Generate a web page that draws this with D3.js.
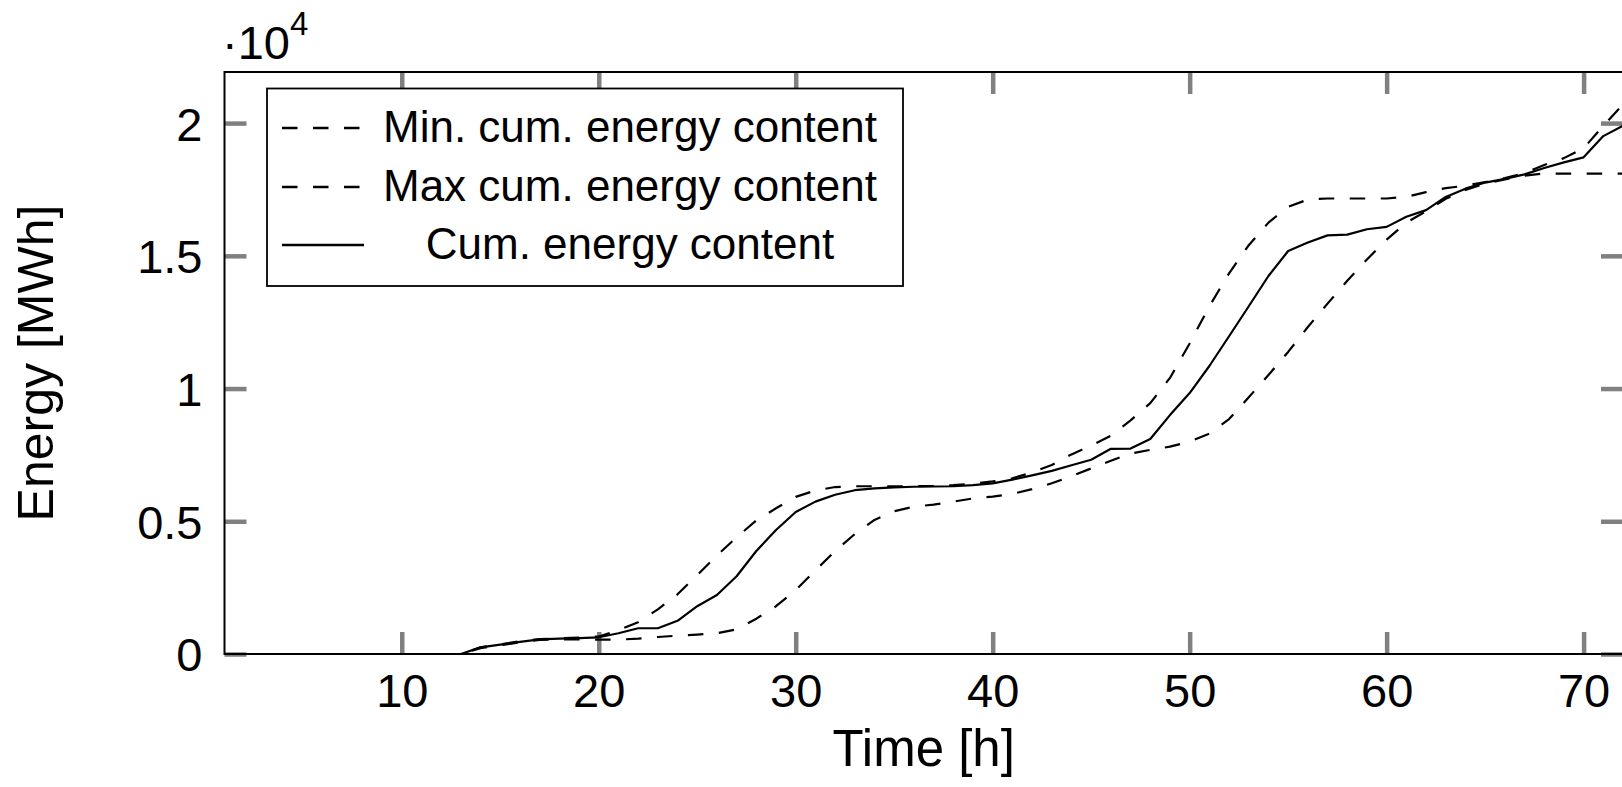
<!DOCTYPE html>
<html>
<head>
<meta charset="utf-8">
<script src="https://cdn.jsdelivr.net/npm/d3@7"></script>
<style>
  html, body { margin: 0; padding: 0; background: #fff; overflow: hidden; }
  svg { display: block; }
  text { font-family: "Liberation Sans", Arial, sans-serif; fill: #000; }
</style>
</head>
<body>
<svg id="chart" width="1622" height="787"></svg>
<script>
// Hours of the simulated horizon
const hours = [1, 2, 3, 4, 5, 6, 7, 8, 9, 10, 11, 12, 13, 14, 15, 16, 17, 18,
  19, 20, 21, 22, 23, 24, 25, 26, 27, 28, 29, 30, 31, 32, 33, 34, 35, 36,
  37, 38, 39, 40, 41, 42, 43, 44, 45, 46, 47, 48, 49, 50, 51, 52, 53, 54,
  55, 56, 57, 58, 59, 60, 61, 62, 63, 64, 65, 66, 67, 68, 69, 70, 71, 72];

// Cumulative energy content bounds and actual trajectory, in MWh
const minCumEnergy = [0, 0, 0, 0, 0, 0, 0, 0, 0, 0, 0, 0, 0, 220, 330, 440, 530, 550,
  550, 540, 540, 580, 640, 690, 730, 780, 930, 1330, 1800, 2410, 3150, 3880, 4520, 5050, 5380, 5550,
  5630, 5740, 5860, 5930, 6030, 6210, 6430, 6700, 6990, 7280, 7550, 7690, 7810, 8000, 8300, 8850, 9670, 10510,
  11380, 12320, 13200, 14060, 14860, 15610, 16250, 16680, 17150, 17480, 17720, 17880, 18020, 18100, 18100, 18100, 18100, 18100];

const maxCumEnergy = [0, 0, 0, 0, 0, 0, 0, 0, 0, 0, 0, 0, 0, 250, 360, 480, 560, 590,
  620, 660, 900, 1200, 1680, 2250, 2970, 3710, 4400, 5030, 5490, 5920, 6160, 6290, 6320, 6320, 6320, 6320,
  6330, 6360, 6420, 6500, 6620, 6840, 7120, 7520, 7850, 8220, 8800, 9450, 10400, 11700, 13100, 14340, 15400, 16250,
  16850, 17120, 17160, 17160, 17160, 17160, 17220, 17400, 17550, 17640, 17780, 17930, 18120, 18420, 18680, 19050, 19900, 20700];

const cumEnergy = [0, 0, 0, 0, 0, 0, 0, 0, 0, 0, 0, 0, 0, 250, 350, 460, 550, 580,
  600, 630, 780, 970, 970, 1250, 1800, 2220, 2930, 3880, 4670, 5350, 5740, 6000, 6170, 6240, 6280, 6300,
  6310, 6320, 6360, 6430, 6570, 6730, 6900, 7110, 7320, 7730, 7740, 8100, 9000, 9830, 10850, 11970, 13100, 14240,
  15180, 15500, 15770, 15800, 16000, 16090, 16470, 16720, 17220, 17530, 17760, 17900, 18070, 18310, 18520, 18710, 19510, 19900];

const xTickValues = [10, 20, 30, 40, 50, 60, 70];
const yTickValues = [0, 5000, 10000, 15000, 20000];
const yTickLabels = ["0", "0.5", "1", "1.5", "2"];
const legendLabels = ["Min. cum. energy content", "Max cum. energy content", "Cum. energy content"];

(function draw() {
  const svg = d3.select("#chart");

  const plotL = 224.5, plotR = 1623, plotT = 72, plotB = 654;
  const x = d3.scaleLinear().domain([1, 72]).range([plotL, plotR]);
  const y = d3.scaleLinear().domain([0, 21925]).range([plotB, plotT]);

  const tickColor = "#808080";
  const tickLen = 22;

  function styleAxis(g) {
    g.select(".domain").remove();
    g.selectAll(".tick line").attr("stroke", tickColor).attr("stroke-width", 4.5);
    g.selectAll(".tick text").attr("fill", "#000");
    g.attr("font-family", null);
  }

  // Ticks point inward on all four sides
  svg.append("g")
    .attr("transform", `translate(0,${plotB})`)
    .call(d3.axisBottom(x).tickValues(xTickValues).tickSizeInner(-tickLen).tickSizeOuter(0)
      .tickPadding(20).tickFormat(d3.format("d")))
    .call(styleAxis)
    .call(g => g.attr("font-size", 47));

  svg.append("g")
    .attr("transform", `translate(0,${plotT})`)
    .call(d3.axisTop(x).tickValues(xTickValues).tickSizeInner(-tickLen).tickSizeOuter(0).tickFormat(""))
    .call(styleAxis);

  svg.append("g")
    .attr("transform", `translate(${plotL},0)`)
    .call(d3.axisLeft(y).tickValues(yTickValues).tickSizeInner(-tickLen).tickSizeOuter(0)
      .tickPadding(22).tickFormat((d, i) => yTickLabels[i]))
    .call(styleAxis)
    .call(g => g.attr("font-size", 47))
    .call(g => g.selectAll(".tick text").attr("dy", "0.36em"));

  svg.append("g")
    .attr("transform", `translate(${plotR},0)`)
    .call(d3.axisRight(y).tickValues(yTickValues).tickSizeInner(-tickLen).tickSizeOuter(0).tickFormat(""))
    .call(styleAxis);

  // Data curves
  const series = [
    { values: minCumEnergy, dash: "15.5,15.5" },
    { values: maxCumEnergy, dash: "15.5,15.5" },
    { values: cumEnergy, dash: null }
  ];

  const line = d3.line().x(d => x(d[0])).y(d => y(d[1]));

  svg.append("g")
    .selectAll("path")
    .data(series)
    .join("path")
    .attr("d", s => line(hours.map((h, i) => [h, s.values[i]])))
    .attr("fill", "none")
    .attr("stroke", "#000")
    .attr("stroke-width", 2.2)
    .attr("stroke-linejoin", "round")
    .attr("stroke-dasharray", s => s.dash);

  // Axis frame
  svg.append("path")
    .attr("d", `M${plotR},${plotT}H${plotL}V${plotB}H${plotR}`)
    .attr("fill", "none")
    .attr("stroke", "#000")
    .attr("stroke-width", 2);

  // Axis labels
  svg.append("text")
    .attr("x", (plotL + plotR) / 2)
    .attr("y", 766)
    .attr("text-anchor", "middle")
    .attr("font-size", 51)
    .text("Time [h]");

  svg.append("text")
    .attr("transform", `translate(53,${(plotT + plotB) / 2}) rotate(-90)`)
    .attr("text-anchor", "middle")
    .attr("font-size", 50)
    .text("Energy [MWh]");

  // Scale factor of the energy axis
  const expLabel = svg.append("text").attr("x", 222).attr("y", 59).attr("font-size", 47);
  expLabel.append("tspan").text("\u00B710");
  expLabel.append("tspan").attr("font-size", 33).attr("dy", -24).text("4");

  // Legend
  const legend = svg.append("g");
  legend.append("rect")
    .attr("x", 267).attr("y", 88.5)
    .attr("width", 636).attr("height", 197.5)
    .attr("fill", "#fff").attr("stroke", "#000").attr("stroke-width", 1.8);

  const rowY = [128, 187, 245];
  legend.selectAll("g.entry")
    .data(series)
    .join("g")
    .attr("class", "entry")
    .each(function (s, i) {
      const g = d3.select(this);
      g.append("line")
        .attr("x1", 282).attr("x2", 364)
        .attr("y1", rowY[i]).attr("y2", rowY[i])
        .attr("stroke", "#000").attr("stroke-width", 2.4)
        .attr("stroke-dasharray", s.dash);
      g.append("text")
        .attr("x", 630).attr("y", rowY[i] + 14)
        .attr("text-anchor", "middle")
        .attr("font-size", 44)
        .text(legendLabels[i]);
    });
})();
</script>
</body>
</html>
